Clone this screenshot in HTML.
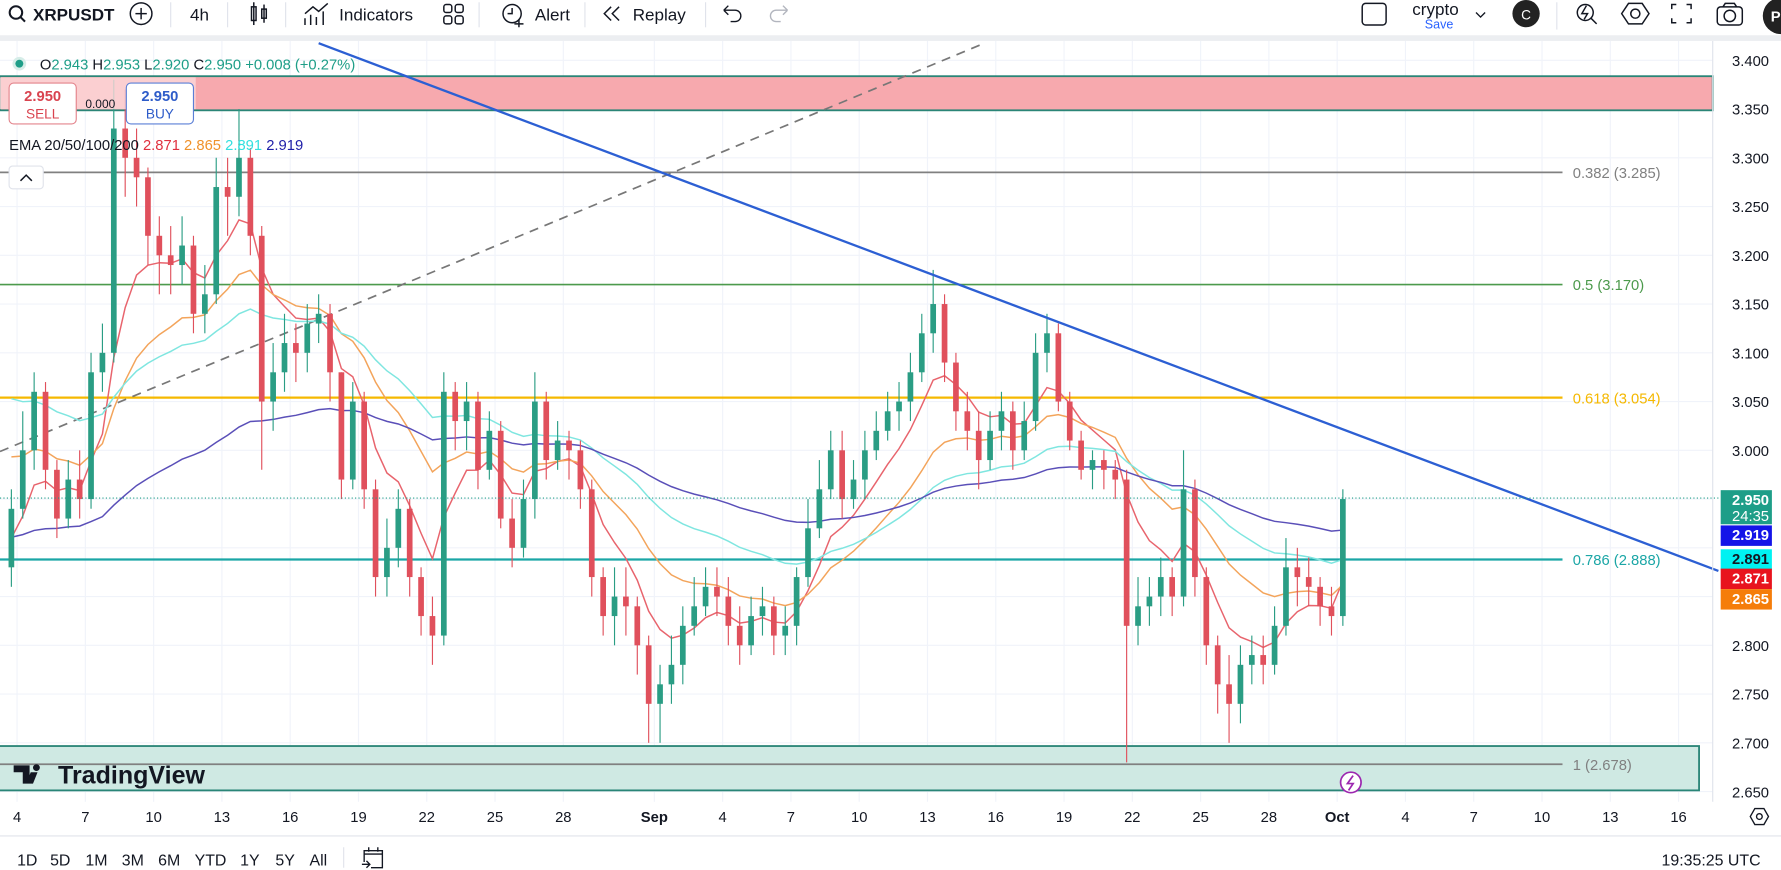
<!DOCTYPE html>
<html><head><meta charset="utf-8">
<style>
html,body{margin:0;padding:0;background:#fff;overflow:hidden}
svg{display:block;font-family:"Liberation Sans",sans-serif}
</style></head>
<body>
<svg id="chart" width="1781" height="870" viewBox="0 0 1565 765" preserveAspectRatio="none" xmlns="http://www.w3.org/2000/svg">
<rect x="0" y="0" width="1565" height="765" fill="#fff"/>
<g font-size="15" fill="#131722">
<g><circle cx="14" cy="11" r="5.5" fill="none" stroke="#131722" stroke-width="1.8"/><line x1="18" y1="15" x2="22" y2="19" stroke="#131722" stroke-width="1.8"/><text x="29" y="18" font-weight="bold" font-size="15">XRPUSDT</text></g>
<g><circle cx="124" cy="12" r="9.5" fill="none" stroke="#131722" stroke-width="1.3"/><line x1="119" y1="12" x2="129" y2="12" stroke="#131722" stroke-width="1.3"/><line x1="124" y1="7" x2="124" y2="17" stroke="#131722" stroke-width="1.3"/></g>
<line x1="150" y1="2" x2="150" y2="24" stroke="#e0e3eb"/>
<text x="167" y="18">4h</text>
<line x1="200" y1="2" x2="200" y2="24" stroke="#e0e3eb"/>
<g stroke="#131722" fill="none" stroke-width="1.3"><rect x="221" y="6" width="4" height="12"/><line x1="223" y1="2" x2="223" y2="22"/><rect x="230" y="8" width="4" height="8"/><line x1="232" y1="4" x2="232" y2="20"/></g>
<line x1="251" y1="2" x2="251" y2="24" stroke="#e0e3eb"/>
<g><path d="M268 22V16M273 22V13M278 22V15M284 22V10M268 12L275 6L280 10L288 3" stroke="#131722" fill="none" stroke-width="1.3"/><text x="298" y="18">Indicators</text></g>
<g fill="none" stroke="#131722" stroke-width="1.3"><rect x="390" y="4" width="7" height="7" rx="2"/><rect x="400" y="4" width="7" height="7" rx="2"/><rect x="390" y="14" width="7" height="7" rx="2"/><rect x="400" y="14" width="7" height="7" rx="2"/></g>
<line x1="421" y1="2" x2="421" y2="24" stroke="#e0e3eb"/>
<g><circle cx="450" cy="12" r="8" fill="none" stroke="#131722" stroke-width="1.3"/><path d="M450 7V12H446M456 17V24M452 21H460" stroke="#131722" fill="none" stroke-width="1.3"/><text x="470" y="18">Alert</text></g>
<line x1="514" y1="2" x2="514" y2="24" stroke="#e0e3eb"/>
<g><path d="M537 6L531 12L537 18M544 6L538 12L544 18" stroke="#131722" fill="none" stroke-width="1.3"/><text x="556" y="18">Replay</text></g>
<line x1="620" y1="2" x2="620" y2="24" stroke="#e0e3eb"/>
<path d="M636 9H646A5 5 0 0 1 646 19H642M636 9L640 5M636 9L640 13" stroke="#131722" fill="none" stroke-width="1.2"/>
<path d="M692 9H682A5 5 0 0 0 682 19H686M692 9L688 5M692 9L688 13" stroke="#b2b5be" fill="none" stroke-width="1.2"/>
<rect x="1197" y="3" width="21" height="19" rx="3" fill="none" stroke="#131722" stroke-width="1.3"/>
<g><text x="1241" y="13" font-size="15">crypto</text><text x="1252" y="25" font-size="11" fill="#2962ff">Save</text></g>
<path d="M1297 11L1301 15L1305 11" stroke="#131722" fill="none" stroke-width="1.2"/>
<circle cx="1341" cy="12" r="12" fill="#222"/><text x="1341" y="17" text-anchor="middle" font-size="12" fill="#fff">C</text>
<line x1="1368" y1="2" x2="1368" y2="26" stroke="#e0e3eb"/>
<g fill="none" stroke="#131722" stroke-width="1.3"><circle cx="1393" cy="11" r="7"/><line x1="1398" y1="16" x2="1403" y2="21"/><path d="M1394 5L1390 12H1395L1392 17"/></g>
<g fill="none" stroke="#131722" stroke-width="1.3"><path d="M1431 3H1443L1449 12L1443 21H1431L1425 12Z"/><circle cx="1437" cy="12" r="4"/></g>
<g fill="none" stroke="#131722" stroke-width="1.3"><path d="M1469 8V4H1473M1482 4H1486V8M1486 16V20H1482M1473 20H1469V16"/></g>
<g fill="none" stroke="#131722" stroke-width="1.3"><rect x="1509" y="6" width="22" height="16" rx="3"/><circle cx="1520" cy="14" r="5"/><path d="M1514 6L1516 3H1524L1526 6"/></g>
<circle cx="1565" cy="14" r="16" fill="#222"/><text x="1556" y="19" font-size="13" fill="#fff" font-weight="bold">P</text>
</g>
<rect x="0" y="31" width="1565" height="5" fill="#eceef1"/>
<g id="grid"></g>
<rect x="0" y="67" width="1505" height="30" fill="#f7a9ae" stroke="#2a8577" stroke-width="1.6"/>
<rect x="-2" y="656" width="1495" height="39" fill="#cfe9e3" stroke="#2a8577" stroke-width="1.6"/>
<g id="fib"></g>
<line x1="0" y1="397" x2="865" y2="38" stroke="#777" stroke-width="1.5" stroke-dasharray="8,6"/>
<g id="emas"></g>
<g id="candles"></g>
<line x1="280" y1="38" x2="1510" y2="502" stroke="#2c5fd3" stroke-width="2"/>
<line x1="0" y1="438" x2="1512" y2="438" stroke="#1e9e88" stroke-width="1" stroke-dasharray="1,2"/>
<g font-size="13">
<circle cx="17" cy="56" r="6" fill="#d6ede8"/><circle cx="17" cy="56" r="3.5" fill="#1e9e88"/>
<text x="35" y="61"><tspan fill="#131722">O</tspan><tspan fill="#1e9e88">2.943 </tspan><tspan fill="#131722">H</tspan><tspan fill="#1e9e88">2.953 </tspan><tspan fill="#131722">L</tspan><tspan fill="#1e9e88">2.920 </tspan><tspan fill="#131722">C</tspan><tspan fill="#1e9e88">2.950 +0.008 (+0.27%)</tspan></text>
</g>
<rect x="0" y="68" width="172" height="28" fill="#fbd8da" opacity="0.8"/>
<g><rect x="8" y="73" width="59" height="36" rx="4" fill="#fff" stroke="#e3848c"/><text x="37.5" y="89" text-anchor="middle" font-size="13" font-weight="bold" fill="#d9434f">2.950</text><text x="37.5" y="104" text-anchor="middle" font-size="12" fill="#d9434f">SELL</text></g>
<text x="75" y="95" font-size="10.5" fill="#131722">0.000</text>
<g><rect x="111" y="73" width="59" height="36" rx="4" fill="#fff" stroke="#5b7fd6"/><text x="140.5" y="89" text-anchor="middle" font-size="13" font-weight="bold" fill="#2e5cc9">2.950</text><text x="140.5" y="104" text-anchor="middle" font-size="12" fill="#2e5cc9">BUY</text></g>
<g font-size="13"><text x="8" y="132"><tspan fill="#131722">EMA 20/50/100/200 </tspan><tspan fill="#e0303f">2.871 </tspan><tspan fill="#f0922b">2.865 </tspan><tspan fill="#33e0e0">2.891 </tspan><tspan fill="#1f1fa8">2.919</tspan></text></g>
<g><rect x="8" y="146" width="30" height="20" rx="3" fill="#fff" stroke="#e0e3eb"/><path d="M18 159L23 154L28 159" stroke="#131722" fill="none" stroke-width="1.3"/></g>
<line x1="1505" y1="36" x2="1505" y2="705" stroke="#e0e3eb"/>
<g id="yaxis" font-size="13" fill="#131722"></g>
<g id="tags" font-size="13" font-weight="bold"></g>
<g id="xaxis" font-size="13" fill="#131722"></g>
<g><path d="M12 673H26V689H20V679H12Z M27 679L33 679L29 689H23Z" fill="#131722"/><circle cx="32" cy="675" r="3" fill="#131722"/><text x="51" y="689" font-size="22" font-weight="bold" fill="#131722">TradingView</text></g>
<g><circle cx="1187" cy="688" r="9" fill="#fff" stroke="#9c27b0" stroke-width="1.5"/><path d="M1189 682L1184 689H1189L1185 695" stroke="#9c27b0" fill="none" stroke-width="1.5"/></g>
<g fill="none" stroke="#131722" stroke-width="1.2"><path d="M1538 718L1542 711H1550L1554 718L1550 725H1542Z"/><circle cx="1546" cy="718" r="2.5"/></g>
<line x1="0" y1="735" x2="1565" y2="735" stroke="#e0e3eb"/>
<g font-size="14" fill="#131722">
<text x="15" y="761">1D</text>
<text x="44" y="761">5D</text>
<text x="75" y="761">1M</text>
<text x="107" y="761">3M</text>
<text x="139" y="761">6M</text>
<text x="171" y="761">YTD</text>
<text x="211" y="761">1Y</text>
<text x="242" y="761">5Y</text>
<text x="272" y="761">All</text>
<line x1="302" y1="745" x2="302" y2="763" stroke="#e0e3eb"/>
<g fill="none" stroke="#131722" stroke-width="1.2"><path d="M320 758V748H336V763H326M320 751H336M324 745V749M332 745V749M318 760H325M322 757L325 760L322 763"/></g>
<text x="1460" y="761">19:35:25 UTC</text>
</g>
</svg>
<script>
const closes = [2.94,3.00,3.06,2.98,2.93,2.97,2.95,3.08,3.10,3.33,3.30,3.28,3.22,3.20,3.19,3.21,3.14,3.16,3.27,3.26,3.30,3.22,3.05,3.08,3.11,3.10,3.13,3.14,3.08,2.97,3.05,2.96,2.87,2.90,2.94,2.87,2.83,2.81,3.06,3.03,3.05,2.98,3.02,2.93,2.90,2.95,3.05,2.99,3.01,3.00,2.96,2.87,2.83,2.85,2.84,2.80,2.74,2.76,2.78,2.82,2.84,2.86,2.85,2.82,2.80,2.83,2.84,2.81,2.82,2.87,2.92,2.96,3.00,2.95,2.97,3.00,3.02,3.04,3.05,3.08,3.12,3.15,3.09,3.04,3.02,2.99,3.02,3.04,3.00,3.03,3.10,3.12,3.05,3.01,2.98,2.99,2.98,2.97,2.82,2.84,2.85,2.87,2.85,2.96,2.87,2.80,2.76,2.74,2.78,2.79,2.78,2.82,2.88,2.87,2.86,2.84,2.83,2.95];
const highs = [2.96,3.04,3.08,3.07,2.99,2.99,3.00,3.10,3.13,3.38,3.37,3.33,3.29,3.24,3.23,3.24,3.22,3.19,3.30,3.30,3.35,3.31,3.23,3.11,3.14,3.13,3.15,3.16,3.15,3.08,3.07,3.06,2.97,2.93,2.96,2.95,2.88,2.85,3.08,3.07,3.07,3.06,3.04,3.03,2.95,2.97,3.08,3.06,3.03,3.02,3.01,2.97,2.88,2.88,2.88,2.85,2.81,2.78,2.81,2.84,2.87,2.88,2.88,2.87,2.84,2.85,2.86,2.85,2.84,2.88,2.95,2.99,3.02,3.02,2.99,3.02,3.04,3.06,3.07,3.10,3.14,3.185,3.16,3.10,3.06,3.04,3.04,3.06,3.05,3.05,3.12,3.14,3.13,3.06,3.02,3.00,3.00,2.99,2.98,2.87,2.87,2.89,2.88,3.00,2.97,2.88,2.81,2.79,2.80,2.81,2.81,2.84,2.91,2.90,2.89,2.87,2.86,2.96];
const lows = [2.86,2.93,2.98,2.96,2.91,2.92,2.93,2.94,3.06,3.09,3.26,3.25,3.19,3.16,3.16,3.17,3.12,3.12,3.15,3.22,3.24,3.20,2.98,3.02,3.06,3.07,3.08,3.11,3.05,2.95,2.96,2.94,2.85,2.85,2.88,2.85,2.81,2.78,2.80,3.00,3.00,2.96,2.97,2.92,2.88,2.89,2.93,2.97,2.98,2.97,2.94,2.85,2.81,2.80,2.81,2.77,2.70,2.70,2.74,2.76,2.81,2.83,2.83,2.80,2.78,2.79,2.81,2.79,2.79,2.80,2.86,2.91,2.95,2.93,2.94,2.95,2.99,3.01,3.02,3.03,3.07,3.10,3.07,3.02,3.00,2.96,2.98,3.00,2.98,2.99,3.02,3.08,3.04,3.00,2.97,2.96,2.96,2.95,2.68,2.80,2.82,2.83,2.83,2.84,2.85,2.78,2.73,2.70,2.72,2.76,2.76,2.77,2.81,2.84,2.84,2.82,2.81,2.82];
const firstOpen = [2.88];
const emaPeriods = [7,17,33,67];
const emaSeeds = [2.90,3.00,3.06,2.91];
const priceTicks = [3.400,3.350,3.300,3.250,3.200,3.150,3.100,3.050,3.000,2.800,2.750,2.700,2.650];
const gridPrices = [3.400,3.350,3.300,3.250,3.200,3.150,3.100,3.050,3.000,2.950,2.900,2.850,2.800,2.750,2.700,2.650];
const dayTicks = [0,3,6,9,12,15,18,21,24,28,31,34,37,40,43,46,49,52,55,58,61,64,67,70,73];
const dayTickLabels = ["4","7","10","13","16","19","22","25","28","Sep","4","7","10","13","16","19","22","25","28","Oct","4","7","10","13","16"];
const fibRatios = ["0.382","0.5","0.618","0.786","1"];
const fibPrices = [3.285,3.170,3.054,2.888,2.678];
const tagPrices = [2.950,2.919,2.891,2.871,2.865];
const tagLabels = ["2.950","2.919","2.891","2.871","2.865"];

const NS="http://www.w3.org/2000/svg";
function yOf(p){return 53+(3.4-p)*857.4;}
function xOfDay(d){return 15+d*20;}
function xOfCandle(i){return xOfDay(-0.5+i*0.5+0.25);}
function mk(tag,attrs,parent){const e=document.createElementNS(NS,tag);for(const k in attrs)e.setAttribute(k,attrs[k]);parent.appendChild(e);return e;}

const grid=document.getElementById('grid');
gridPrices.forEach(p=>{
  const l=mk('line',{x1:0,y1:yOf(p),x2:1505,y2:yOf(p),stroke:'#f0f3fa'},grid);
  
  
});
dayTicks.forEach(d=>{
  const l=mk('line',{x1:xOfDay(d),y1:36,x2:xOfDay(d),y2:705,stroke:'#f0f3fa'},grid);
  
  
});
const yaxis=document.getElementById('yaxis');
priceTicks.forEach(p=>{
  const t=mk('text',{x:1522,y:yOf(p)+5},yaxis);
  t.textContent=p.toFixed(3);
  
  
});
const xaxis=document.getElementById('xaxis');
dayTicks.forEach((d,i)=>{
  const t=mk('text',{x:xOfDay(d),y:723,'text-anchor':'middle'},xaxis);
  if(dayTickLabels[i]==='Sep'||dayTickLabels[i]==='Oct')t.setAttribute('font-weight','bold');
  t.textContent=dayTickLabels[i];
  
  
});

const fibColors=['#808080','#4c9a4c','#f5b800','#1ba6a6','#808080'];
const fib=document.getElementById('fib');
fibRatios.forEach((r,i)=>{
  const y=yOf(fibPrices[i]);
  const l=mk('line',{x1:0,y1:y,x2:1373,y2:y,stroke:fibColors[i],'stroke-width':(i===3||i===2)?2:1.5},fib);
  
  
  const t=mk('text',{x:1382,y:y+5,fill:fibColors[i],'font-size':13},fib);
  t.textContent=r+' ('+fibPrices[i].toFixed(3)+')';
  
  
});

const cg=document.getElementById('candles');
closes.forEach((c,i)=>{
  const o=i===0?firstOpen[0]:closes[i-1];
  const up=c>=o, col=up?'#2a9d84':'#e0505c', x=xOfCandle(i);
  const w=mk('line',{x1:x,y1:yOf(highs[i]),x2:x,y2:yOf(lows[i]),stroke:col,'stroke-width':1},cg);
  
  
  const top=yOf(Math.max(o,c)),bot=yOf(Math.min(o,c));
  const b=mk('rect',{x:x-2.5,y:top,width:5,height:Math.max(1,bot-top),fill:col},cg);
  
  
});

const emaColors=['#e8646d','#f3a45b','#7fe6e0','#5a4fb8'];
const eg=document.getElementById('emas');
emaPeriods.forEach((n,k)=>{
  const a=2/(n+1);let e=emaSeeds[k];let pts=[];
  closes.forEach((c,i)=>{e=e+a*(c-e);pts.push(xOfCandle(i).toFixed(1)+','+yOf(e).toFixed(1));});
  const pl=mk('polyline',{points:pts.join(' '),fill:'none',stroke:emaColors[k],'stroke-width':1.3},eg);
  
  
});

const tagBg=['#1e9e88','#1414e8','#00f2f2','#e8141e','#f57d0a'];
const tagFg=['#fff','#fff','#131722','#fff','#fff'];
const tg=document.getElementById('tags');
let ty=[431,462,483,500,518];
tagPrices.forEach((p,i)=>{
  const h=i===0?30:18;
  const r=mk('rect',{x:1512,y:ty[i],width:45,height:h,fill:tagBg[i]},tg);
  
  
  const t=mk('text',{x:1522,y:ty[i]+13,fill:tagFg[i]},tg);
  t.textContent=tagLabels[i];
  
  
  if(i===0){const t2=mk('text',{x:1522,y:ty[i]+27,fill:'#fff','font-weight':'normal'},tg);t2.textContent='24:35';
  
  }
});
</script>
</body></html>
